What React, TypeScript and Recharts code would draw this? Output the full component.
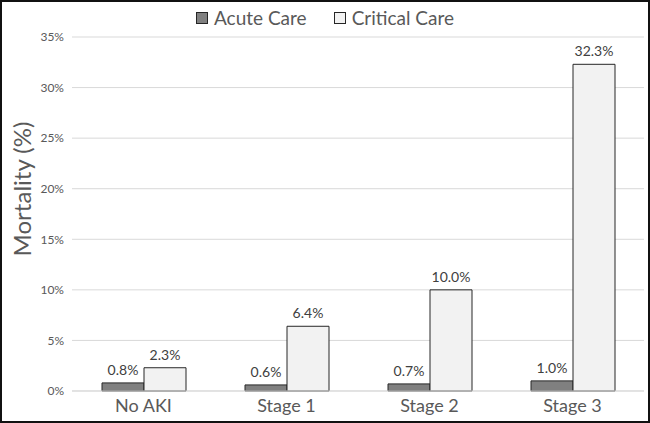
import React from 'react';
import { BarChart, Bar, XAxis, YAxis, CartesianGrid, Legend, LabelList } from 'recharts';

const categories = ['No AKI', 'Stage 1', 'Stage 2', 'Stage 3'];
const acuteCare = [0.8, 0.6, 0.7, 1.0];
const criticalCare = [2.3, 6.4, 10.0, 32.3];
const yTicks = [0, 5, 10, 15, 20, 25, 30, 35];

const data = categories.map((c, i) => ({ name: c, acute: acuteCare[i], critical: criticalCare[i] }));

const FONT = 'Lato, "Open Sans", sans-serif';
const TEXT = '#595959';

const seriesInfo = [
  { key: 'acute', name: 'Acute Care', fill: '#808080' },
  { key: 'critical', name: 'Critical Care', fill: '#f2f2f2' },
];

const LegendContent = () => (
  <div style={{ display: 'flex', justifyContent: 'center', alignItems: 'center', height: 24, fontFamily: FONT, fontSize: 19, color: TEXT }}>
    {seriesInfo.map((s, i) => (
      <div key={s.key} style={{ display: 'flex', alignItems: 'center', marginLeft: i === 0 ? 0 : 27 }}>
        <span style={{ display: 'inline-block', boxSizing: 'border-box', width: 12, height: 12, background: s.fill, border: '1.5px solid #262626', marginRight: 6 }} />
        <span style={{ lineHeight: '24px' }}>{s.name}</span>
      </div>
    ))}
  </div>
);

const fmt = (v: any) => `${Number(v).toFixed(1)}%`;

export default function App() {
  return (
    <div style={{ position: 'absolute', left: 0, top: 0, width: 650, height: 423, background: '#fff' }}>
      <BarChart
        width={650}
        height={423}
        data={data}
        margin={{ top: 37, right: 6, bottom: 0, left: 0 }}
        barGap={0}
        barCategoryGap={30}
      >
        <CartesianGrid vertical={false} stroke="#d9d9d9" />
        <XAxis
          dataKey="name"
          height={32}
          axisLine={{ stroke: '#d9d9d9' }}
          tickLine={false}
          tick={{ fill: TEXT, fontSize: 18, fontFamily: FONT }}
        />
        <YAxis
          width={72}
          domain={[0, 35]}
          ticks={yTicks}
          axisLine={false}
          tickLine={false}
          tickFormatter={(v: number) => `${v}%`}
          tick={{ fill: TEXT, fontSize: 12, fontFamily: FONT }}
          label={{
            content: () => (
              <text
                x={21}
                y={189}
                transform="rotate(-90 21 189)"
                textAnchor="middle"
                dominantBaseline="central"
                fill={TEXT}
                fontSize={24}
                fontFamily={FONT}
              >
                Mortality (%)
              </text>
            ),
          }}
        />
        <Legend
          layout="horizontal"
          verticalAlign="middle"
          align="center"
          wrapperStyle={{ top: 6, left: 0, width: 650 }}
          content={<LegendContent />}
        />
        <Bar dataKey="acute" name="Acute Care" fill="#808080" stroke="#262626" strokeWidth={1} isAnimationActive={false}>
          <LabelList dataKey="acute" position="top" offset={8} formatter={fmt} fill="#404040" fontSize={14} fontFamily={FONT} />
        </Bar>
        <Bar dataKey="critical" name="Critical Care" fill="#f2f2f2" stroke="#262626" strokeWidth={1} isAnimationActive={false}>
          <LabelList dataKey="critical" position="top" offset={8} formatter={fmt} fill="#404040" fontSize={14} fontFamily={FONT} />
        </Bar>
      </BarChart>
      <div style={{ position: 'absolute', left: 0, top: 0, width: 650, height: 423, boxSizing: 'border-box', border: '2px solid #111', pointerEvents: 'none' }} />
    </div>
  );
}
